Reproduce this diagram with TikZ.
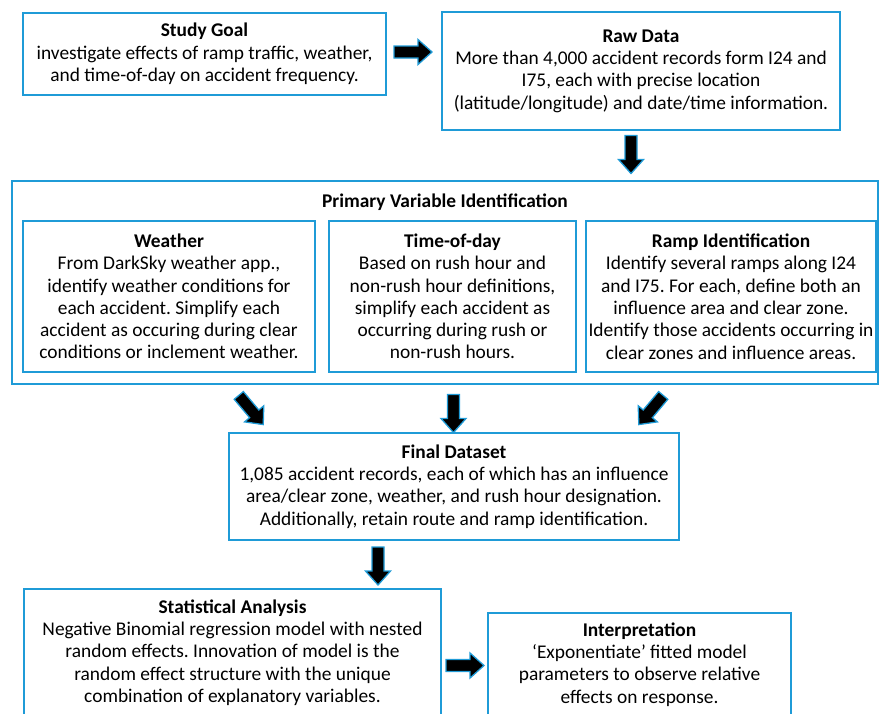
\documentclass[tikz,border=0pt]{standalone}
\usepackage{fontspec}
\setmainfont{Carlito}
\frenchspacing
\usepackage{xcolor}
\usepackage{tikz}
\usetikzlibrary{calc,positioning}
\definecolor{boxblue}{HTML}{1F9BD7}
\tikzset{
  box/.style={draw=boxblue,line width=1.6pt,align=center,inner sep=2pt,font=\fontsize{19.4}{22.3}\selectfont},
  ttl/.style={font=\fontsize{19.4}{22.3}\selectfont\bfseries},
  barrow/.pic={\draw[boxblue,line width=1.3pt,fill=black,line join=miter]
    (-19,-6)--(5,-6)--(5,-12.5)--(19,0)--(5,12.5)--(5,6)--(-19,6)--cycle;}
}
\begin{document}
\begin{tikzpicture}[x=1pt,y=-1pt]
\useasboundingbox (0,0) rectangle (880,713);
\clip (0,0) rectangle (880,713);
% top row
\node[box,minimum width=363,minimum height=82] (goal) at (204.5,54)
  {\textbf{Study Goal}\\investigate effects of ramp traffic, weather,\\and time-of-day on accident frequency.};
\node[box,minimum width=398,minimum height=118] (raw) at (641,71)
  {\textbf{Raw Data}\\More than 4,000 accident records form I24 and\\I75, each with precise location\\(latitude/longitude) and date/time information.};
% primary variables
\node[box,minimum width=866,minimum height=203] (primary) at (445,282.5) {};
\node[ttl] (ptitle) at (445,202) {Primary Variable Identification};
\node[box,minimum width=292,minimum height=151] (weather) at (169,296.5)
  {\textbf{Weather}\\From DarkSky weather app.,\\identify weather conditions for\\each accident. Simplify each\\accident as occuring during clear\\conditions or inclement weather.};
\node[box,minimum width=247,minimum height=151] (tod) at (452.5,296.5)
  {\textbf{Time-of-day}\\Based on rush hour and\\non-rush hour definitions,\\simplify each accident as\\occurring during rush or\\non-rush hours.};
\node[box,minimum width=290,minimum height=151] (ramp) at (731,296.5)
  {\textbf{Ramp Identification}\\Identify several ramps along I24\\and I75. For each, define both an\\influence area and clear zone.\\Identify those accidents occurring in\\clear zones and influence areas.};
% final data
\node[box,minimum width=450,minimum height=107] (final) at (454,486.5)
  {\textbf{Final Dataset}\\1,085 accident records, each of which has an influence\\area/clear zone, weather, and rush hour designation.\\Additionally, retain route and ramp identification.};
% analysis
\node[box,minimum width=417,minimum height=127] (stat) at (232.5,652.5)
  {\textbf{Statistical Analysis}\\Negative Binomial regression model with nested\\random effects. Innovation of model is the\\random effect structure with the unique\\combination of explanatory variables.};
\node[box,minimum width=303,minimum height=103] (interp) at (639.5,664.5)
  {\textbf{Interpretation}\\‘Exponentiate’ fitted model\\parameters to observe relative\\effects on response.};
% block arrows
\pic at (413,52) {barrow};
\pic[rotate=-90] at (631,154.5) {barrow};
\pic[rotate=-50] at (251,410) {barrow};
\pic[rotate=-90] at (453.5,413.5) {barrow};
\pic[rotate=-130] at (651,410) {barrow};
\pic[rotate=-90] at (378,566) {barrow};
\pic at (465,665.5) {barrow};
\end{tikzpicture}
\end{document}
